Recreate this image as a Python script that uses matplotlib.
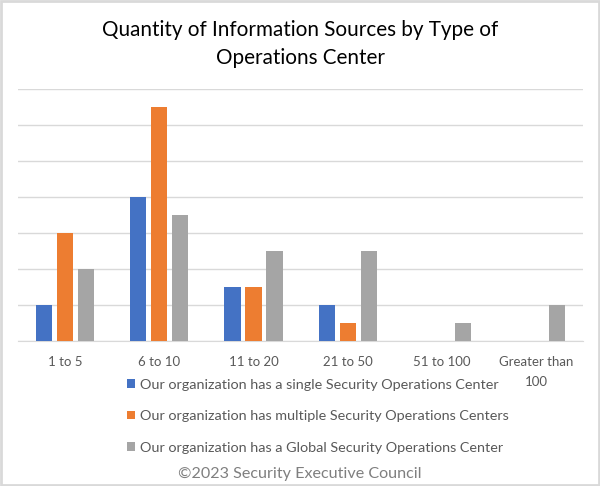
import numpy as np
import matplotlib.pyplot as plt
from matplotlib.patches import Rectangle

plt.rcParams['font.family'] = ['Lato', 'DejaVu Sans']

# data
categories = ['1 to 5', '6 to 10', '11 to 20', '21 to 50', '51 to 100',
              'Greater than\n100']
single_soc = [2, 8, 3, 2, 0, 0]
multiple_soc = [6, 13, 3, 1, 0, 0]
global_soc = [4, 7, 5, 5, 1, 2]

series_names = [
    'Our organization has a single Security Operations Center',
    'Our organization has multiple Security Operations Centers',
    'Our organization has a Global Security Operations Center',
]
series_colors = ['#4472C4', '#ED7D31', '#A5A5A5']

fig = plt.figure(figsize=(6.0, 4.86), dpi=100)
ax = fig.add_axes([0.03, 145 / 486, 0.942, 252 / 486])

x = np.arange(len(categories))
width = 0.17
step = 0.223

for i, (vals, name, col) in enumerate(
        zip([single_soc, multiple_soc, global_soc], series_names, series_colors)):
    ax.bar(x + (i - 1) * step, vals, width, color=col, label=name, zorder=3)

ax.set_xlim(-0.5, len(categories) - 0.5)
ax.set_ylim(0, 14)
ax.set_yticks(np.arange(0, 15, 2))
ax.yaxis.grid(True, color='#D9D9D9', linewidth=1, zorder=0)
ax.tick_params(axis='y', left=False, labelleft=False)
ax.tick_params(axis='x', length=0, pad=11, labelsize=9.5, labelcolor='#595959')
ax.set_xticks(x)
ax.set_xticklabels(categories, linespacing=1.75)
for side in ['top', 'right', 'left']:
    ax.spines[side].set_visible(False)
ax.spines['bottom'].set_color('#D9D9D9')

fig.text(0.5, 0.958, 'Quantity of Information Sources by Type of\nOperations Center',
         ha='center', va='top', fontsize=14.9, color='#000000', linespacing=1.5)

leg = fig.legend(loc='upper left', bbox_to_anchor=(0.211, 0.221),
                 frameon=False, fontsize=10.4, labelcolor='#595959',
                 handlelength=0.55, handleheight=0.55, handletextpad=0.35,
                 labelspacing=1.36, borderpad=0, borderaxespad=0)

fig.text(0.5, 0.010, '\u00a92023 Security Executive Council', ha='center',
         va='bottom', fontsize=11.6, color='#7F7F7F')

fig.patches.append(Rectangle((0.002, 0.002), 0.996, 0.996, transform=fig.transFigure,
                             fill=False, edgecolor='#D9D9D9', linewidth=2))

fig.savefig('out.png', dpi=100)
